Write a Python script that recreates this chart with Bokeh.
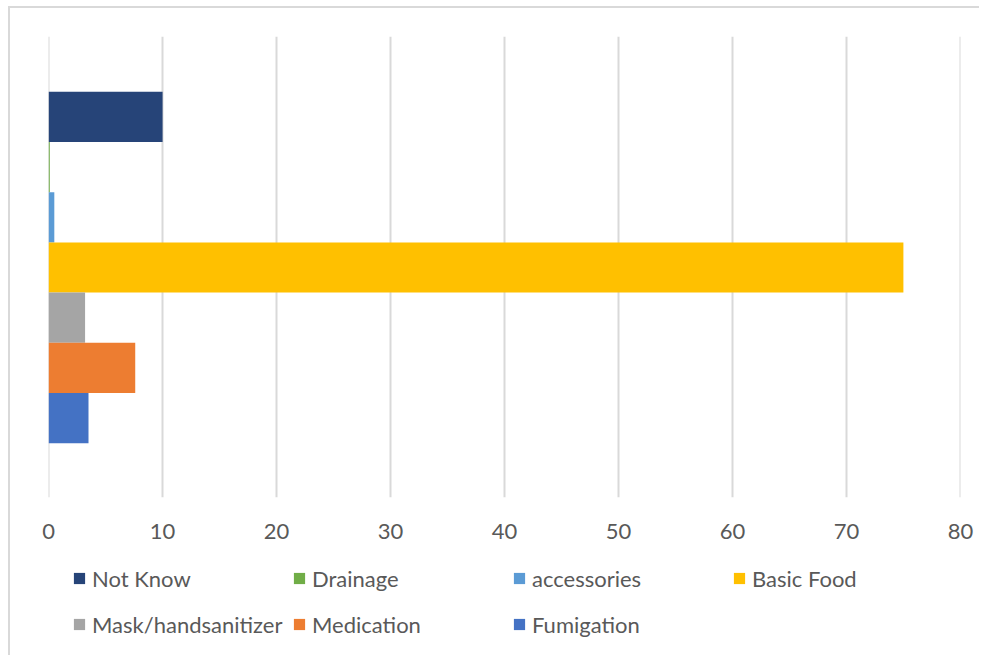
from bokeh.plotting import figure
from bokeh.models import ColumnDataSource, Range1d, Legend, LegendItem
from bokeh.layouts import column
from bokeh.embed import file_html
from bokeh.resources import INLINE

categories = ["Not Know", "Drainage", "accessories", "Basic Food",
              "Mask/handsanitizer", "Medication", "Fumigation"]
values = [10, 0.1, 0.5, 75, 3.2, 7.6, 3.5]
colors = ["#264478", "#70AD47", "#5B9BD5", "#FFC000",
          "#A5A5A5", "#ED7D31", "#4472C4"]
x_ticks = [0, 10, 20, 30, 40, 50, 60, 70, 80]

n = len(categories)
ypos = [n - 1 - i + 0.5 for i in range(n)]

src = ColumnDataSource(dict(cat=categories, val=values, col=colors, y=ypos))

# main chart
p = figure(frame_width=910, frame_height=459, output_backend="svg",
           toolbar_location=None,
           x_range=Range1d(-0.01, 80.01), y_range=Range1d(-1.08, 8.1),
           min_border_left=38, min_border_right=21, min_border_top=28,
           min_border_bottom=60)
p.styles = {"margin-left": "8px", "margin-top": "6px",
            "border-left": "2px solid #d9d9d9", "border-top": "2px solid #d9d9d9"}

r = p.hbar(y="y", right="val", left=0, height=1.0, fill_color="col",
           line_color=None, source=src)

p.yaxis.visible = False
p.ygrid.visible = False
p.outline_line_color = None
p.xgrid.grid_line_color = "#d9d9d9"
p.xgrid.grid_line_width = 2
p.xaxis.ticker = x_ticks
p.xaxis.axis_line_color = None
p.xaxis.major_tick_line_color = None
p.xaxis.minor_tick_line_color = None
p.xaxis.major_label_text_font = "Lato"
p.xaxis.major_label_text_font_size = "22px"
p.xaxis.major_label_text_color = "#595959"
p.xaxis.major_label_standoff = 20

# legend strip (same data, drawn outside its visible range so only the legend shows)
lg = figure(frame_width=969, frame_height=100, output_backend="svg",
            toolbar_location=None,
            x_range=Range1d(1000, 1001), y_range=Range1d(1000, 1001),
            min_border_left=0, min_border_right=0, min_border_top=0,
            min_border_bottom=0)
lg.styles = {"margin-left": "8px", "border-left": "2px solid #d9d9d9"}
lg.axis.visible = False
lg.grid.visible = False
lg.outline_line_color = None
r2 = lg.hbar(y="y", right="val", left=0, height=1.0, fill_color="col",
             line_color=None, source=src)

items = [LegendItem(label=c, renderers=[r2], index=i) for i, c in enumerate(categories)]
legend = Legend(items=items, ncols=4, orientation="horizontal",
                location=(62, 8), border_line_color=None,
                background_fill_alpha=0,
                glyph_width=14, glyph_height=14, label_standoff=6,
                label_width=200, label_height=46, spacing=0,
                label_text_font="Lato", label_text_font_size="22px",
                label_text_color="#595959", padding=0, margin=0)
lg.add_layout(legend, "center")

layout = column(p, lg, spacing=0)
open("out.html", "w").write(file_html(layout, INLINE))
